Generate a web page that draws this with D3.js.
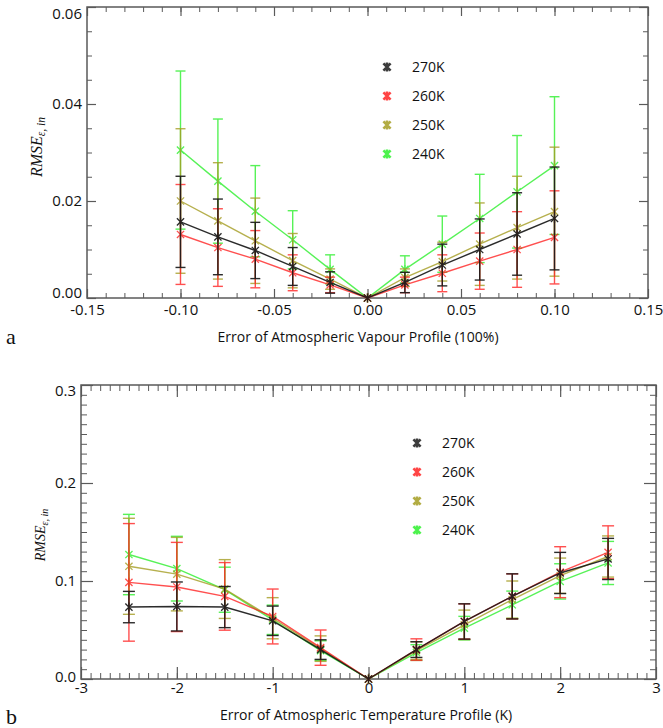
<!DOCTYPE html>
<html>
<head>
<meta charset="utf-8">
<script src="https://cdn.jsdelivr.net/npm/d3@7"></script>
<style>
  body { margin: 0; background: #fff; }
  svg { display: block; }
  .tick text { font-family: "Open Sans", sans-serif; }
</style>
</head>
<body>
<div id="chart"></div>
<script>
// Data
const seriesNames = ['270K', '260K', '250K', '240K'];
const seriesColors = ['#1a1a1a', '#ff2424', '#a59d22', '#2ef02e'];
const seriesOpacity = [0.92, 0.8, 0.8, 0.8];

// panel a: vapour profile error
const vapX = [-0.10, -0.08, -0.06, -0.04, -0.02, 0, 0.02, 0.04, 0.06, 0.08, 0.10];
const vap270 = [0.0157, 0.0126, 0.0098, 0.0065, 0.0032, 0, 0.0032, 0.0068, 0.0100, 0.0132, 0.0164];
const vap270Err = [0.0094, 0.0078, 0.0058, 0.0039, 0.0022, 0, 0.0021, 0.0043, 0.0063, 0.0085, 0.0106];
const vap260 = [0.0131, 0.0104, 0.0080, 0.0052, 0.0027, 0, 0.0027, 0.0051, 0.0076, 0.0100, 0.0125];
const vap260Err = [0.0103, 0.0080, 0.0059, 0.0037, 0.0016, 0, 0.0016, 0.0038, 0.0058, 0.0078, 0.0096];
const vap250 = [0.0200, 0.0159, 0.0118, 0.0077, 0.0039, 0, 0.0042, 0.0075, 0.0111, 0.0145, 0.0178];
const vap250Err = [0.0149, 0.0120, 0.0088, 0.0056, 0.0021, 0, 0.0018, 0.0040, 0.0085, 0.0106, 0.0133];
const vap240 = [0.0305, 0.0241, 0.0179, 0.0120, 0.0059, 0, 0.0059, 0.0111, 0.0164, 0.0219, 0.0273];
const vap240Err = [0.0163, 0.0128, 0.0094, 0.0060, 0.0030, 0, 0.0028, 0.0058, 0.0091, 0.0116, 0.0142];
const vapXTicks = [-0.15, -0.10, -0.05, 0.00, 0.05, 0.10, 0.15];
const vapYTicks = [0.00, 0.02, 0.04, 0.06];

// panel b: temperature profile error
const tmpX = [-2.5, -2, -1.5, -1, -0.5, 0, 0.5, 1, 1.5, 2, 2.5];
const tmp270 = [0.0734, 0.0740, 0.0734, 0.0594, 0.030, 0, 0.030, 0.0587, 0.0843, 0.1082, 0.1225];
const tmp270Err = [0.016, 0.025, 0.021, 0.015, 0.010, 0, 0.008, 0.018, 0.023, 0.021, 0.021];
const tmp260 = [0.0986, 0.0939, 0.0843, 0.0638, 0.032, 0, 0.030, 0.0587, 0.0843, 0.1090, 0.1293];
const tmp260Err = [0.060, 0.0455, 0.0345, 0.028, 0.018, 0, 0.011, 0.018, 0.023, 0.026, 0.027];
const tmp250 = [0.115, 0.107, 0.0918, 0.062, 0.031, 0, 0.029, 0.0553, 0.081, 0.1054, 0.125];
const tmp250Err = [0.049, 0.0375, 0.030, 0.021, 0.013, 0, 0.009, 0.015, 0.019, 0.018, 0.021];
const tmp240 = [0.127, 0.1126, 0.0911, 0.0604, 0.029, 0, 0.027, 0.0519, 0.0757, 0.0996, 0.1184];
const tmp240Err = [0.041, 0.033, 0.023, 0.015, 0.010, 0, 0.008, 0.012, 0.014, 0.018, 0.022];
const tmpXTicks = [-3, -2, -1, 0, 1, 2, 3];
const tmpYTicks = [0.0, 0.1, 0.2, 0.3];

const svg = d3.select('#chart')
  .append('svg')
  .attr('width', 663)
  .attr('height', 728);

// plain hyphen instead of the unicode minus d3 uses
const hyphen = f => d => f(d).replace('\u2212', '-');

// asterisk marker: X plus a vertical stroke
function asterisk(r) {
  const a = r * 0.8;
  return `M${-a},${-a}L${a},${a}M${-a},${a}L${a},${-a}M0,${-r}L0,${r}`;
}

function drawPanel(p) {
  const x = d3.scaleLinear().domain(p.xDomain).range([p.left, p.right]);
  const y = d3.scaleLinear().domain(p.yDomain).range([p.bottom, p.top]);
  const g = svg.append('g');
  const axisColor = '#5a5a5a';

  // minor + major ticks on all four sides
  const minorX = d3.range(p.xDomain[0], p.xDomain[1] + p.xMinor / 2, p.xMinor);
  const minorY = d3.range(p.yDomain[0], p.yDomain[1] + p.yMinor / 2, p.yMinor);
  const axes = [
    [d3.axisTop(x), p.bottom, 'x', minorX, p.xTicks],
    [d3.axisBottom(x), p.top, 'x', minorX, p.xTicks],
    [d3.axisRight(y), p.left, 'y', minorY, p.yTicks],
    [d3.axisLeft(y), p.right, 'y', minorY, p.yTicks],
  ];
  axes.forEach(([ax, pos, dim, minor, major]) => {
    const tr = dim === 'x' ? `translate(0,${pos})` : `translate(${pos},0)`;
    g.append('g').attr('transform', tr)
      .call(ax.tickValues(minor).tickSize(p.minorLen).tickFormat('').tickSizeOuter(0))
      .call(s => s.select('.domain').remove())
      .selectAll('line').attr('stroke', axisColor);
    g.append('g').attr('transform', tr)
      .call(ax.tickValues(major).tickSize(p.majorLen).tickFormat('').tickSizeOuter(0))
      .call(s => s.select('.domain').remove())
      .selectAll('line').attr('stroke', axisColor).attr('stroke-width', 1.2);
  });

  g.append('rect')
    .attr('x', p.left).attr('y', p.top)
    .attr('width', p.right - p.left).attr('height', p.bottom - p.top)
    .attr('fill', 'none').attr('stroke', axisColor).attr('stroke-width', 1.5);

  // tick labels
  const xLab = g.append('g')
    .attr('transform', `translate(0,${p.bottom})`)
    .call(d3.axisBottom(x).tickValues(p.xTicks).tickSize(0).tickPadding(p.xPad).tickFormat(hyphen(p.xFormat)));
  xLab.select('.domain').remove();
  xLab.selectAll('text').attr('font-size', p.fontSize).attr('fill', '#111');

  const yLab = g.append('g')
    .attr('transform', `translate(${p.left},0)`)
    .call(d3.axisLeft(y).tickValues(p.yTicks).tickSize(0).tickPadding(5).tickFormat(hyphen(p.yFormat)));
  yLab.select('.domain').remove();
  yLab.selectAll('text')
    .attr('font-size', p.fontSize).attr('fill', '#111')
    .attr('y', (d, i, n) => i === 0 ? p.yLabLow : (i === n.length - 1 ? p.yLabHigh : 0));

  // axis titles
  g.append('text')
    .attr('x', p.titleX)
    .attr('y', p.titleY)
    .attr('text-anchor', 'middle')
    .attr('font-family', '"Open Sans", sans-serif')
    .attr('font-size', p.fontSize - 1)
    .attr('fill', '#111')
    .text(p.xTitle);

  const yt = g.append('text')
    .attr('transform', `translate(${p.yTitleX},${p.yTitleY}) rotate(-90)`)
    .attr('text-anchor', 'middle')
    .attr('font-family', '"Liberation Serif", serif')
    .attr('font-style', 'italic')
    .attr('font-size', p.yTitleSize)
    .attr('fill', '#111');
  yt.append('tspan').text('RMSE');
  yt.append('tspan').attr('font-size', p.yTitleSize * 0.72).attr('dy', 3).text('ε, in');

  g.append('text')
    .attr('x', 6).attr('y', p.letterY)
    .attr('font-family', '"Liberation Serif", serif')
    .attr('font-size', 22)
    .attr('fill', '#111')
    .text(p.letter);

  // series, drawn from 240K back to 270K
  const line = d3.line().x(d => x(d.x)).y(d => y(d.v));
  for (let k = p.series.length - 1; k >= 0; k--) {
    const color = seriesColors[k];
    const pts = p.xs.map((xv, i) => ({ x: xv, v: p.series[k][i], e: p.errs[k][i] }));
    const s = g.append('g').attr('opacity', seriesOpacity[k]);

    s.append('path')
      .datum(pts)
      .attr('d', line)
      .attr('fill', 'none')
      .attr('stroke', color)
      .attr('stroke-width', 1.4);

    const eb = s.selectAll('.eb').data(pts.filter(d => d.e > 0)).join('g');
    eb.append('line')
      .attr('x1', d => x(d.x)).attr('x2', d => x(d.x))
      .attr('y1', d => y(d.v - d.e)).attr('y2', d => y(d.v + d.e))
      .attr('stroke', color).attr('stroke-width', 1.4);
    [-1, 1].forEach(sign => {
      eb.append('line')
        .attr('x1', d => x(d.x) - p.cap).attr('x2', d => x(d.x) + p.cap)
        .attr('y1', d => y(d.v + sign * d.e)).attr('y2', d => y(d.v + sign * d.e))
        .attr('stroke', color).attr('stroke-width', 1.4);
    });

    s.selectAll('.mk').data(pts).join('path')
      .attr('transform', d => `translate(${x(d.x)},${y(d.v)})`)
      .attr('d', asterisk(4.5))
      .attr('fill', 'none')
      .attr('stroke', color)
      .attr('stroke-width', 1.3);
  }

  // legend
  seriesNames.forEach((name, k) => {
    const ly = p.legY + k * p.legStep;
    g.append('path')
      .attr('transform', `translate(${p.legX},${ly})`)
      .attr('d', asterisk(4.5))
      .attr('fill', 'none')
      .attr('stroke', seriesColors[k])
      .attr('stroke-width', 2.6)
      .attr('opacity', 0.85);
    g.append('text')
      .attr('x', p.legX + 25).attr('y', ly)
      .attr('dy', '0.35em')
      .attr('font-family', '"Open Sans", sans-serif')
      .attr('font-size', p.fontSize - 1)
      .attr('fill', '#111')
      .text(name);
  });
}

drawPanel({
  xs: vapX,
  series: [vap270, vap260, vap250, vap240],
  errs: [vap270Err, vap260Err, vap250Err, vap240Err],
  xDomain: [-0.15, 0.15], yDomain: [0, 0.06],
  xTicks: vapXTicks, yTicks: vapYTicks,
  xMinor: 0.01, yMinor: 0.005,
  xFormat: d3.format('.2f'), yFormat: d3.format('.2f'),
  left: 87, right: 648, top: 7, bottom: 298,
  majorLen: 9, minorLen: 5, cap: 5,
  xPad: 6, fontSize: 15, yLabLow: -5, yLabHigh: 7,
  xTitle: 'Error of Atmospheric Vapour Profile (100%)', titleX: 358, titleY: 342,
  yTitleX: 42, yTitleY: 147, yTitleSize: 16,
  letter: 'a', letterY: 344,
  legX: 387, legY: 67, legStep: 29,
});

drawPanel({
  xs: tmpX,
  series: [tmp270, tmp260, tmp250, tmp240],
  errs: [tmp270Err, tmp260Err, tmp250Err, tmp240Err],
  xDomain: [-3, 3], yDomain: [0, 0.3],
  xTicks: tmpXTicks, yTicks: tmpYTicks,
  xMinor: 0.1, yMinor: 0.01,
  xFormat: d3.format('d'), yFormat: d3.format('.1f'),
  left: 81, right: 656, top: 385, bottom: 679,
  majorLen: 12, minorLen: 6, cap: 6,
  xPad: 3, fontSize: 15, yLabLow: -2, yLabHigh: 6,
  xTitle: 'Error of Atmospheric Temperature Profile (K)', titleX: 366, titleY: 720,
  yTitleX: 45, yTitleY: 535, yTitleSize: 14,
  letter: 'b', letterY: 724,
  legX: 417, legY: 443, legStep: 29,
});
</script>
</body>
</html>
